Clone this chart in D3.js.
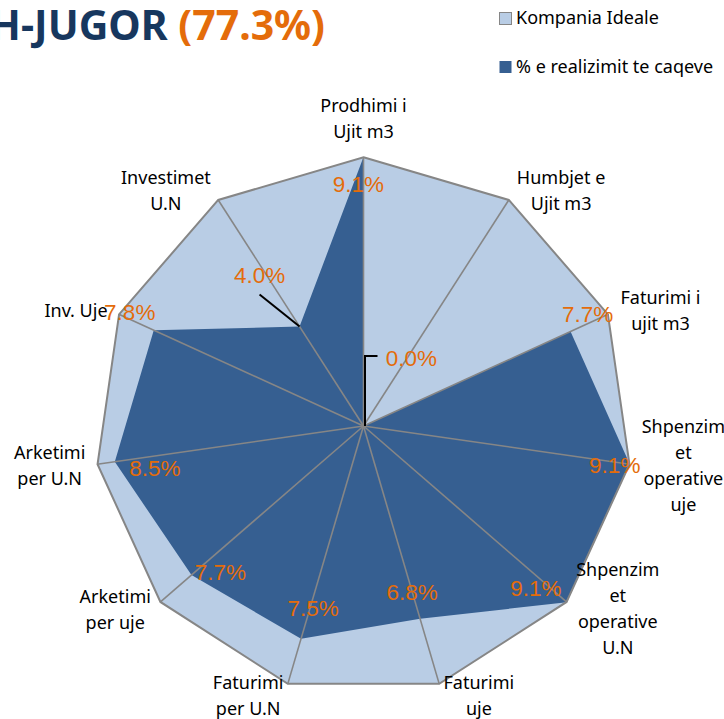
<!DOCTYPE html>
<html>
<head>
<meta charset="utf-8">
<script src="https://cdn.jsdelivr.net/npm/d3@7"></script>
<style>
  body { margin: 0; background: #fff; }
  svg { display: block; }
</style>
</head>
<body>
<script>

// axis names, clockwise from the top (each entry = wrapped lines)
var categories = [
    ["Prodhimi i", "Ujit m3"],
    ["Humbjet e", "Ujit m3"],
    ["Faturimi i", "ujit m3"],
    ["Shpenzim", "et", "operative", "uje"],
    ["Shpenzim", "et", "operative", "U.N"],
    ["Faturimi", "uje"],
    ["Faturimi", "per U.N"],
    ["Arketimi", "per uje"],
    ["Arketimi", "per U.N"],
    ["Inv. Uje"],
    ["Investimet", "U.N"]
];

// series 1 : Kompania Ideale (100% / 11 axes)
var idealValues = [9.09, 9.09, 9.09, 9.09, 9.09, 9.09, 9.09, 9.09, 9.09, 9.09, 9.09];

// series 2 : % e realizimit te caqeve
var actualValues = [9.1, 0.0, 7.7, 9.1, 9.1, 6.8, 7.5, 7.7, 8.5, 7.8, 4.0];

var seriesNames = ["Kompania Ideale", "% e realizimit te caqeve"];

var titleText = "H-JUGOR ";
var titleTotal = "(77.3%)";

/*
  layout (not data): Excel puts labels a bit off the radial line,
  so every label gets a small nudge
*/
var catNudge = [[0, 2.5], [30, 25], [15, 13], [13, -4], [20, -20], [28, -28],
                [-28, -28], [-14, -19.5], [-7, -4], [-5.5, 13], [-30, 25]];
var valNudge = [[-5, 27], [48, -68], [17, -18], [-15, 1], [-31, -14], [-8, -27],
                [12, -31], [29, -3], [40, 6], [-24, -18], [-40, -52]];
var hasLeader = [false, true, false, false, false, false, false, false, false, false, true];

var width = 724, height = 719;
var cx = 363.5, cy = 426, radius = 269;

var colorIdeal = "#b9cde5";
var colorActual = "#365f91";
var colorGrid = "#868686";
var colorOrange = "#e46c0a";

var svg = d3.select("body").append("svg")
    .attr("width", width)
    .attr("height", height);

var n = categories.length;
var angle = d3.scaleLinear().domain([0, n]).range([0, 2 * Math.PI]);
var r = d3.scaleLinear().domain([0, 9.1]).range([0, radius]);

function pt(i, v) {
    var a = angle(i);
    return [cx + r(v) * Math.sin(a), cy - r(v) * Math.cos(a)];
}

var radial = d3.lineRadial()
    .angle((d, i) => angle(i))
    .radius(d => r(d))
    .curve(d3.curveLinearClosed);

var g = svg.append("g").attr("transform", `translate(${cx},${cy})`);

//ideal area
g.append("path")
    .attr("d", radial(idealValues))
    .attr("fill", colorIdeal);

//actual area
g.append("path")
    .attr("d", radial(actualValues))
    .attr("fill", colorActual);

//spokes
g.selectAll(".spoke")
    .data(d3.range(n))
    .enter()
    .append("line")
    .attr("class", "spoke")
    .attr("x1", 0).attr("y1", 0)
    .attr("x2", i => r(9.1) * Math.sin(angle(i)))
    .attr("y2", i => -r(9.1) * Math.cos(angle(i)))
    .attr("stroke", colorGrid)
    .attr("stroke-width", 1.6);

//outer border
g.append("path")
    .attr("d", radial(idealValues))
    .attr("fill", "none")
    .attr("stroke", colorGrid)
    .attr("stroke-width", 2);

//category labels
var lineH = 26;
categories.forEach((lines, i) => {
    var a = angle(i);
    var x = cx + 310 * Math.sin(a) + catNudge[i][0];
    var y = cy - 310 * Math.cos(a) + catNudge[i][1];
    var t = svg.append("text")
        .attr("text-anchor", "middle")
        .attr("font-family", "Noto Sans, sans-serif")
        .attr("font-size", 18)
        .attr("fill", "#000");
    var y0 = y - (lines.length - 1) * lineH / 2;
    lines.forEach((s, k) => {
        t.append("tspan")
            .attr("x", x)
            .attr("y", y0 + k * lineH)
            .attr("dy", "0.35em")
            .text(s);
    });
});

//leader lines
actualValues.forEach((v, i) => {
    if (!hasLeader[i]) return;
    var p = pt(i, v);
    var lx = p[0] + valNudge[i][0], ly = p[1] + valNudge[i][1];
    var path;
    if (i === 1) {
        path = `M${lx - 34},${ly - 2}H${p[0] + 1.5}V${p[1]}`;
    } else {
        path = `M${lx},${ly + 20}L${p[0]},${p[1]}`;
    }
    svg.append("path")
        .attr("d", path)
        .attr("fill", "none")
        .attr("stroke", "#000")
        .attr("stroke-width", 2);
});

//value labels
svg.selectAll(".vlabel")
    .data(actualValues)
    .enter()
    .append("text")
    .attr("class", "vlabel")
    .attr("x", (d, i) => pt(i, d)[0] + valNudge[i][0])
    .attr("y", (d, i) => pt(i, d)[1] + valNudge[i][1])
    .attr("dy", "0.36em")
    .attr("text-anchor", "middle")
    .attr("font-family", "Liberation Sans, Arial, sans-serif")
    .attr("font-size", 22.5)
    .attr("fill", colorOrange)
    .text(d => d.toFixed(1) + "%");

//title (clipped at the left edge like the original)
var title = svg.append("text")
    .attr("x", 325)
    .attr("y", 40)
    .attr("text-anchor", "end")
    .attr("font-family", "Noto Sans, sans-serif")
    .attr("font-weight", "bold")
    .attr("font-size", 41);
title.append("tspan").attr("fill", "#17375e").text(titleText);
title.append("tspan").attr("fill", colorOrange).text(titleTotal);

//legend
var legend = svg.selectAll(".legend")
    .data(seriesNames)
    .enter()
    .append("g")
    .attr("class", "legend")
    .attr("transform", (d, i) => `translate(499,${12 + i * 48.5})`);

legend.append("rect")
    .attr("x", 0.5).attr("y", 0.5)
    .attr("width", 12).attr("height", 12)
    .attr("fill", (d, i) => i === 0 ? colorIdeal : colorActual)
    .attr("stroke", (d, i) => i === 0 ? colorGrid : "none")
    .attr("stroke-width", 1);

legend.append("text")
    .attr("x", 17)
    .attr("y", 12)
    .attr("font-family", "Noto Sans, sans-serif")
    .attr("font-size", 18)
    .attr("fill", "#000")
    .text(d => d);

</script>
</body>
</html>
